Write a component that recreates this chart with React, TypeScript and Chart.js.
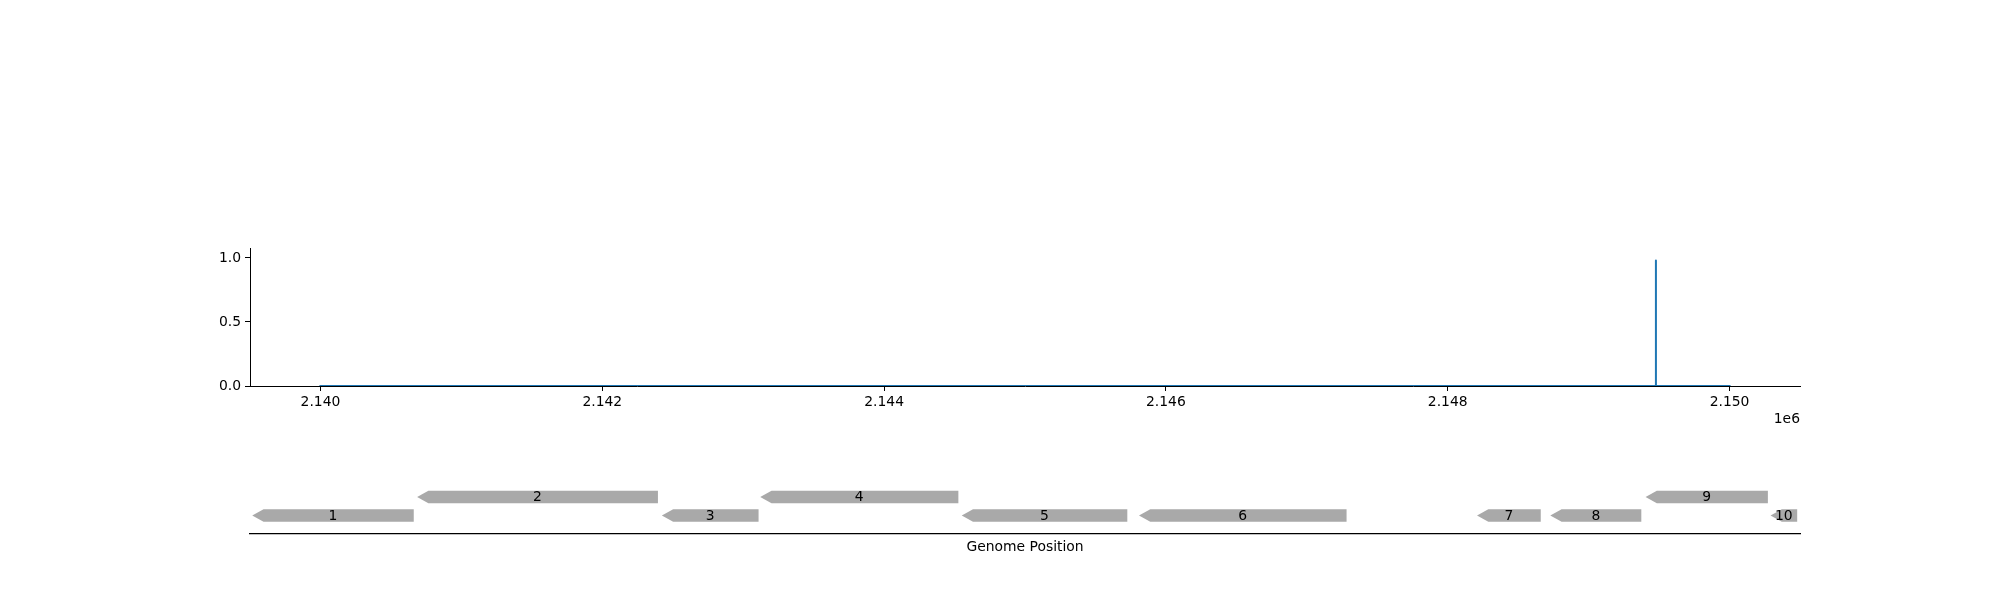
import React, { useEffect, useRef } from "react";
import { Chart, registerables } from "chart.js";

Chart.register(...registerables);

// ---------- data ----------
const X_MIN = 2139500;
const X_MAX = 2150500;

const coveragePositions = [2140000, 2149476, 2149477, 2149478, 2150000];
const coverageValues = [0, 0, 0.98, 0, 0];

const xTickValues = [2140000, 2142000, 2144000, 2146000, 2148000, 2150000];
const yTickValues = [0, 0.5, 1.0];
const Y_MAX = 1.078;

const geneLabels = ["1", "2", "3", "4", "5", "6", "7", "8", "9", "10"];
const geneStarts = [2139516, 2140686, 2142423, 2143121, 2144551, 2145809, 2148208, 2148728, 2149404, 2150291];
const geneEnds = [2140662, 2142395, 2143109, 2144527, 2145726, 2147282, 2148660, 2149374, 2150272, 2150480];
const geneRows = [1, 2, 1, 2, 1, 1, 1, 1, 2, 1];
const geneStrands = [-1, -1, -1, -1, -1, -1, -1, -1, -1, -1];

// ---------- styles ----------
const FONT = "DejaVu Sans";
const FS = 13.9;
const LINE_COLOR = "#1f77b4";
const GENE_COLOR = "#a9a9a9";
const HEAD_BP = 80;
const GENE_HALF = 0.335;

Chart.defaults.font.family = FONT;
Chart.defaults.font.size = FS;
Chart.defaults.color = "#000";

const offsetTextPlugin = {
  id: "offsetText",
  afterDraw(chart: any) {
    const xs = chart.scales.x;
    const ctx = chart.ctx;
    ctx.save();
    ctx.font = `${FS}px "${FONT}"`;
    ctx.fillStyle = "#000";
    ctx.textAlign = "right";
    ctx.textBaseline = "middle";
    ctx.fillText("1e6", xs.right, 419);
    ctx.restore();
  },
};

const genePlugin = {
  id: "genes",
  afterDatasetsDraw(chart: any) {
    const xs = chart.scales.x;
    const ys = chart.scales.y;
    const ctx = chart.ctx;
    ctx.save();
    for (let i = 0; i < geneLabels.length; i++) {
      const s = geneStarts[i];
      const e = geneEnds[i];
      const row = geneRows[i];
      const xa = xs.getPixelForValue(s);
      const xb = xs.getPixelForValue(e);
      const yc = ys.getPixelForValue(row);
      const yt = ys.getPixelForValue(row + GENE_HALF);
      const yb = ys.getPixelForValue(row - GENE_HALF);
      ctx.beginPath();
      if (geneStrands[i] < 0) {
        const xh = xs.getPixelForValue(Math.min(s + HEAD_BP, e));
        ctx.moveTo(xb, yt);
        ctx.lineTo(xh, yt);
        ctx.lineTo(xa, yc);
        ctx.lineTo(xh, yb);
        ctx.lineTo(xb, yb);
      } else {
        const xh = xs.getPixelForValue(Math.max(e - HEAD_BP, s));
        ctx.moveTo(xa, yt);
        ctx.lineTo(xh, yt);
        ctx.lineTo(xb, yc);
        ctx.lineTo(xh, yb);
        ctx.lineTo(xa, yb);
      }
      ctx.closePath();
      ctx.fillStyle = GENE_COLOR;
      ctx.fill();
    }
    ctx.font = `${FS}px "${FONT}"`;
    ctx.fillStyle = "#000";
    ctx.textAlign = "center";
    ctx.textBaseline = "middle";
    for (let i = 0; i < geneLabels.length; i++) {
      const xm = xs.getPixelForValue((geneStarts[i] + geneEnds[i]) / 2);
      const yc = ys.getPixelForValue(geneRows[i]);
      ctx.fillText(geneLabels[i], xm, yc + 0.5);
    }
    ctx.restore();
  },
};

function CoverageChart() {
  const ref = useRef<HTMLCanvasElement>(null);
  useEffect(() => {
    const chart = new Chart(ref.current as HTMLCanvasElement, {
      type: "line",
      data: {
        datasets: [
          {
            data: coveragePositions.map((x, i) => ({ x, y: coverageValues[i] })),
            borderColor: LINE_COLOR,
            borderWidth: 2,
            pointRadius: 0,
            fill: false,
            tension: 0,
            borderJoinStyle: "round",
            borderCapStyle: "square",
          },
        ],
      },
      options: {
        animation: false,
        responsive: false,
        devicePixelRatio: 1,
        events: [],
        layout: { padding: { left: 0, right: 200, top: 248, bottom: 0 } },
        plugins: { legend: { display: false }, tooltip: { enabled: false } },
        scales: {
          x: {
            type: "linear",
            min: X_MIN,
            max: X_MAX,
            afterBuildTicks: (s: any) => {
              s.ticks = xTickValues.map((v) => ({ value: v }));
            },
            afterFit: (s: any) => {
              s.height = 54;
            },
            ticks: {
              autoSkip: false,
              maxRotation: 0,
              padding: 3,
              color: "#000",
              font: { family: FONT, size: FS },
              callback: (v: any) => (Number(v) / 1e6).toFixed(3),
            },
            grid: { drawOnChartArea: false, drawTicks: true, tickLength: 5, tickColor: "#000", tickWidth: 1 },
            border: { display: true, color: "#000", width: 1 },
          },
          y: {
            type: "linear",
            min: 0,
            max: Y_MAX,
            afterBuildTicks: (s: any) => {
              s.ticks = yTickValues.map((v) => ({ value: v }));
            },
            afterFit: (s: any) => {
              s.width = 250;
            },
            ticks: {
              padding: 4,
              color: "#000",
              font: { family: FONT, size: FS },
              callback: (v: any) => Number(v).toFixed(1),
            },
            grid: { drawOnChartArea: false, drawTicks: true, tickLength: 5, tickColor: "#000", tickWidth: 1 },
            border: { display: true, color: "#000", width: 1 },
          },
        },
      },
      plugins: [offsetTextPlugin],
    } as any);
    return () => chart.destroy();
  }, []);
  return (
    <canvas
      ref={ref}
      width={2000}
      height={440}
      style={{ position: "absolute", left: 0, top: 0, width: 2000, height: 440 }}
    />
  );
}

function GeneTrack() {
  const ref = useRef<HTMLCanvasElement>(null);
  useEffect(() => {
    const chart = new Chart(ref.current as HTMLCanvasElement, {
      type: "scatter",
      data: { datasets: [{ data: [], pointRadius: 0 }] },
      options: {
        animation: false,
        responsive: false,
        devicePixelRatio: 1,
        events: [],
        layout: { padding: { left: 250, right: 200, top: 1.5, bottom: 0 } },
        plugins: { legend: { display: false }, tooltip: { enabled: false } },
        scales: {
          x: {
            type: "linear",
            min: X_MIN,
            max: X_MAX,
            afterFit: (s: any) => {
              s.height = 66;
            },
            ticks: { display: false },
            grid: { drawOnChartArea: false, drawTicks: false },
            border: { display: true, color: "#000", width: 1.3 },
            title: {
              display: true,
              text: "Genome Position",
              color: "#000",
              font: { family: FONT, size: FS },
              padding: { top: 0, bottom: 44.2 },
            },
          },
          y: {
            type: "linear",
            min: 0,
            max: 5,
            display: false,
          },
        },
      },
      plugins: [genePlugin],
    } as any);
    return () => chart.destroy();
  }, []);
  return (
    <canvas
      ref={ref}
      width={2000}
      height={160}
      style={{ position: "absolute", left: 0, top: 440, width: 2000, height: 160 }}
    />
  );
}

export default function App() {
  return (
    <div style={{ position: "absolute", left: 0, top: 0, width: 2000, height: 600, background: "#fff" }}>
      <CoverageChart />
      <GeneTrack />
    </div>
  );
}
